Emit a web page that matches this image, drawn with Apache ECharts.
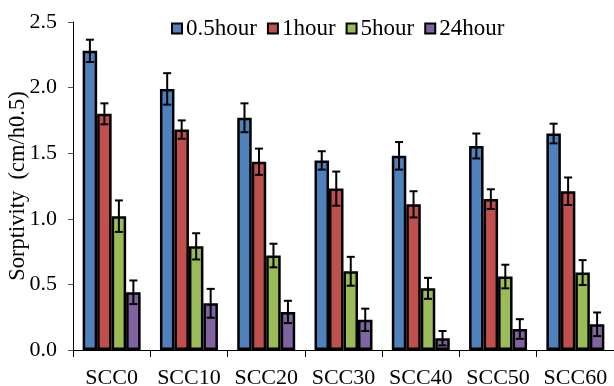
<!DOCTYPE html>
<html><head><meta charset="utf-8">
<script src="https://cdn.jsdelivr.net/npm/echarts@6/dist/echarts.min.js"></script>
<style>html,body{margin:0;padding:0;background:#fff}#c{width:614px;height:386px}</style>
</head><body><div id="c"></div>
<script>
const categories = ['SCC0','SCC10','SCC20','SCC30','SCC40','SCC50','SCC60'];
const seriesNames = ['0.5hour','1hour','5hour','24hour'];
const v05 = [2.28, 1.99, 1.77, 1.445, 1.48, 1.555, 1.65];
const v1 = [1.80, 1.68, 1.435, 1.23, 1.11, 1.15, 1.21];
const v5 = [1.02, 0.79, 0.72, 0.60, 0.47, 0.56, 0.59];
const v24 = [0.44, 0.356, 0.29, 0.23, 0.09, 0.16, 0.196];
const e05 = [0.085, 0.12, 0.11, 0.07, 0.105, 0.095, 0.075];
const e1 = [0.08, 0.07, 0.10, 0.13, 0.10, 0.075, 0.105];
const e5 = [0.12, 0.10, 0.09, 0.11, 0.08, 0.09, 0.095];
const e24 = [0.09, 0.11, 0.085, 0.085, 0.055, 0.075, 0.09];
const yTicks = ['0.0','0.5','1.0','1.5','2.0','2.5'];
const yName = 'Sorptivity  (cm/h0.5)';

const values = [v05, v1, v5, v24];
const errors = [e05, e1, e5, e24];
const colors = ['#4F81BD','#C0504D','#9BBB59','#8064A2'];
const gapRatio = 0.25;
const font = 'Liberation Serif';

const chart = echarts.init(document.getElementById('c'));
const series = [];
values.forEach((vals, i) => {
  series.push({
    name: seriesNames[i], type: 'bar', data: vals,
    barGap: 0, barCategoryGap: (gapRatio*100)+'%',
    itemStyle: {color: colors[i], borderColor: '#000', borderWidth: 2.5},
    emphasis: {disabled: true}
  });
});
values.forEach((vals, i) => {
  series.push({
    type: 'custom', name: 'err' + i, z: 10,
    data: vals.map((v, j) => [j, v, errors[i][j]]),
    renderItem: function (params, api) {
      const c = api.value(0), v = api.value(1), e = api.value(2);
      const band = api.size([1, 0])[0];
      const bw = band * (1 - gapRatio) / 4;
      const center = api.coord([c, 0])[0];
      const x = center - band * (1 - gapRatio) / 2 + (i + 0.5) * bw;
      const yt = api.coord([c, v + e])[1];
      const yb = api.coord([c, v - e])[1];
      const cap = 4;
      const st = {stroke: '#000', lineWidth: 2};
      return {type: 'group', children: [
        {type: 'line', shape: {x1: x, y1: yt, x2: x, y2: yb}, style: st},
        {type: 'line', shape: {x1: x - cap, y1: yt, x2: x + cap, y2: yt}, style: st},
        {type: 'line', shape: {x1: x - cap, y1: yb, x2: x + cap, y2: yb}, style: st}
      ]};
    }
  });
});

chart.setOption({
  animation: false,
  textStyle: {fontFamily: font},
  legend: {
    data: seriesNames, top: 12, left: 166, itemWidth: 10, itemHeight: 10, itemGap: 10,
    textStyle: {fontFamily: font, fontSize: 23, color: '#000', padding: [0,0,0,-1]},
    icon: 'rect'
  },
  grid: {left: 73, right: 0, top: 22, bottom: 36, containLabel: false, outerBoundsMode: 'none'},
  graphic: [{
    type: 'text', x: 18, y: 186, rotation: Math.PI / 2,
    style: {text: yName, font: '22.5px "Liberation Serif"', fill: '#000', align: 'center', verticalAlign: 'middle'}
  }],
  xAxis: {
    type: 'category', data: categories,
    axisLine: {lineStyle: {color: '#000', width: 1}},
    axisTick: {show: true, alignWithLabel: false, length: 7, lineStyle: {color: '#000'}},
    axisLabel: {fontFamily: font, fontSize: 22, color: '#000', margin: 17, interval: 0, hideOverlap: false}
  },
  yAxis: {
    type: 'value', min: 0, max: 2.5, interval: 0.5,
    axisLine: {show: true, lineStyle: {color: '#000', width: 1}},
    axisTick: {show: true, length: 5, lineStyle: {color: '#555'}},
    splitLine: {show: false},
    axisLabel: {fontFamily: font, fontSize: 22, color: '#000', margin: 16,
      formatter: (v) => yTicks[Math.round(v / 0.5)]}
  },
  series: series
});
</script></body></html>
